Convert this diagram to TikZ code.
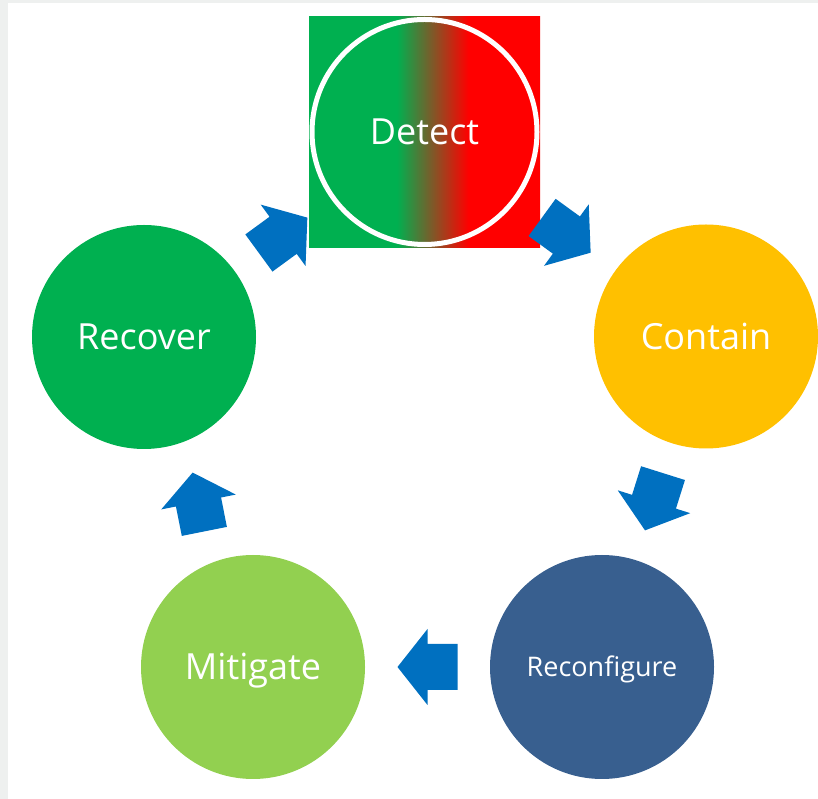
\documentclass[tikz,border=0pt]{standalone}
\usepackage{fontspec}
\setmainfont{Open Sans}
\usetikzlibrary{calc}
\definecolor{bggray}{HTML}{EEF0EF}
\definecolor{dgreen}{HTML}{00B050}
\definecolor{dred}{HTML}{FF0000}
\definecolor{cyellow}{HTML}{FFC000}
\definecolor{rblue}{HTML}{385F8F}
\definecolor{mgreen}{HTML}{92D050}
\definecolor{arrowblue}{HTML}{0070C0}
\pgfdeclarehorizontalshading{detectshade}{100bp}{color(0bp)=(dgreen); color(44bp)=(dgreen); color(59.5bp)=(dred); color(100bp)=(dred)}
\begin{document}
\begin{tikzpicture}[x=1pt,y=1pt,
  phase/.style={circle, minimum size=224, inner sep=0, text=white,
    font=\fontsize{36}{40}\selectfont, text height=26pt, text depth=0pt},
  blockarrow/.pic={\fill[arrowblue] (-30,-23) -- (0,-23) -- (0,-38) -- (30,0) -- (0,38) -- (0,23) -- (-30,23) -- cycle;}]
\useasboundingbox (0,0) rectangle (818,799);
\fill[bggray] (0,0) rectangle (818,799);
\fill[white] (8,0) rectangle (818,796);
\node[rectangle, minimum size=231, inner sep=0, shade, shading=detectshade] (detectbg) at (424.5,667) {};
\node[phase, draw=white, line width=5, minimum size=225] (detect) at (detectbg.center) {Detect};
\node[phase, fill=dgreen] (recover) at (144,462) {Recover};
\node[phase, fill=cyellow] (contain) at (706,462.5) {Contain};
\node[phase, fill=rblue, font=\fontsize{27}{30}\selectfont, text height=19pt] (reconf) at (602,132) {Reconfigure};
\node[phase, fill=mgreen] (mitigate) at (253,132) {Mitigate};
\path (recover) -- (detect) pic[pos=0.5, sloped, allow upside down] {blockarrow};
\path (detect) -- (contain) pic[pos=0.5, sloped, allow upside down] {blockarrow};
\path (contain) -- (reconf) pic[pos=0.5, sloped, allow upside down] {blockarrow};
\path (reconf) -- (mitigate) pic[pos=0.5, sloped, allow upside down] {blockarrow};
\path (mitigate) -- (recover) pic[pos=0.5, sloped, allow upside down, rotate=-7] {blockarrow};
\end{tikzpicture}
\end{document}
